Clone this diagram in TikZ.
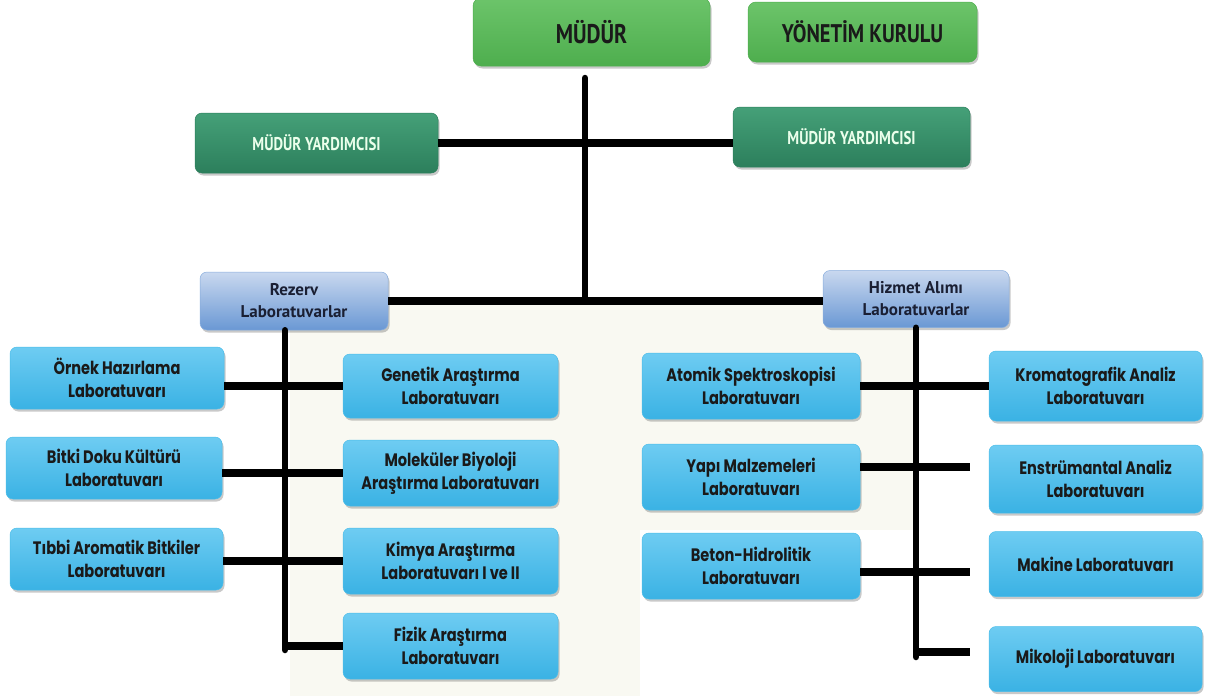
\documentclass[tikz,border=0pt]{standalone}
\usepackage{fontspec}
\setmainfont{PT Sans}
\newfontfamily\labfont[FakeStretch=0.81]{Poppins}
\newfontfamily\topfont[FakeStretch=0.8]{PT Sans}
\usetikzlibrary{shadows}
\definecolor{labtop}{HTML}{6ECCF2}
\definecolor{labbot}{HTML}{3AB2E4}
\definecolor{labedge}{HTML}{4BBDE9}
\definecolor{reztop}{HTML}{C9D8EF}
\definecolor{rezbot}{HTML}{6A98D4}
\definecolor{grtop}{HTML}{6CC46A}
\definecolor{grbot}{HTML}{4EAE4E}
\definecolor{dgtop}{HTML}{45A078}
\definecolor{dgbot}{HTML}{2C7F5C}
\definecolor{cream}{HTML}{F9F9F2}
\definecolor{txt}{HTML}{1A1A1A}
\definecolor{navy}{HTML}{1A1F33}
\tikzset{
  shad/.style={drop shadow={shadow xshift=1.5pt,shadow yshift=-2.5pt,opacity=0.3,fill=black!70}},
  labbox/.style={shad,rounded corners=7pt,draw=labedge,line width=0.5pt,top color=labtop,bottom color=labbot,
    align=center,text=txt,font=\labfont\bfseries\fontsize{18}{23.5}\selectfont,inner sep=0pt},
  grpbox/.style={shad,rounded corners=7pt,draw=rezbot!80!white,line width=0.5pt,top color=reztop,bottom color=rezbot,
    align=center,text=navy,font=\bfseries\fontsize{17}{22}\selectfont,inner sep=0pt},
  topbox/.style={shad,rounded corners=8pt,draw=grbot,line width=0.5pt,top color=grtop,bottom color=grbot,
    align=center,text=txt,inner sep=0pt},
  vicebox/.style={shad,rounded corners=7pt,draw=dgbot,line width=0.5pt,top color=dgtop,bottom color=dgbot,
    align=center,text=white!92!green,font=\topfont\bfseries\fontsize{18.5}{22}\selectfont,inner sep=0pt},
  conn/.style={line width=8.5pt,black},
  trunk/.style={line width=6.5pt,black,line cap=round},
}
\begin{document}
\begin{tikzpicture}[x=1pt,y=-1pt]
\useasboundingbox (0,0) rectangle (1206,696);
% faint background panel
\fill[cream] (290,305) rectangle (913,530);
\fill[cream] (290,530) rectangle (640,696);

% top level
\node[topbox,minimum width=237pt,minimum height=68pt,font=\topfont\bfseries\fontsize{27}{30}\selectfont] (mudur) at (591.5,32) {MÜDÜR};
\node[topbox,minimum width=229pt,minimum height=60pt,font=\topfont\bfseries\fontsize{25.5}{28}\selectfont] (yk) at (862.5,32) {YÖNETİM KURULU};
\node[vicebox,minimum width=243pt,minimum height=60pt] (myl) at (316.5,143) {MÜDÜR YARDIMCISI};
\node[vicebox,minimum width=237pt,minimum height=60pt] (myr) at (851.5,137) {MÜDÜR YARDIMCISI};

% groups
\node[grpbox,minimum width=188pt,minimum height=58pt] (rez) at (294,301) {Rezerv\\Laboratuvarlar};
\node[grpbox,minimum width=186pt,minimum height=57pt] (hiz) at (916,299) {Hizmet Alımı\\Laboratuvarlar};

% left labs
\node[labbox,minimum width=214pt,minimum height=62pt] (ornek) at (117,378) {Örnek Hazırlama\\Laboratuvarı};
\node[labbox,minimum width=216pt,minimum height=62pt] (bitki) at (114,468) {Bitki Doku Kültürü\\Laboratuvarı};
\node[labbox,minimum width=213pt,minimum height=62pt] (tibbi) at (116.5,559) {Tıbbi Aromatik Bitkiler\\Laboratuvarı};
\node[labbox,minimum width=215pt,minimum height=64pt] (genetik) at (450.5,386) {Genetik Araştırma\\Laboratuvarı};
\node[labbox,minimum width=215pt,minimum height=66pt] (molek) at (450.5,473) {Moleküler Biyoloji\\Araştırma Laboratuvarı};
\node[labbox,minimum width=215pt,minimum height=66pt] (kimya) at (450.5,561) {Kimya Araştırma\\Laboratuvarı I ve II};
\node[labbox,minimum width=215pt,minimum height=66pt] (fizik) at (450.5,646) {Fizik Araştırma\\Laboratuvarı};

% right labs
\node[labbox,minimum width=218pt,minimum height=66pt] (atomik) at (751,386) {Atomik Spektroskopisi\\Laboratuvarı};
\node[labbox,minimum width=218pt,minimum height=66pt] (yapi) at (751,477) {Yapı Malzemeleri\\Laboratuvarı};
\node[labbox,minimum width=218pt,minimum height=66pt] (beton) at (751,566) {Beton-Hidrolitik\\Laboratuvarı};
\node[labbox,minimum width=213pt,minimum height=70pt] (kroma) at (1095.5,386) {Kromatografik Analiz\\Laboratuvarı};
\node[labbox,minimum width=213pt,minimum height=68pt] (enst) at (1095.5,479) {Enstrümantal Analiz\\Laboratuvarı};
\node[labbox,minimum width=213pt,minimum height=65pt] (makine) at (1095.5,564) {Makine Laboratuvarı};
\node[labbox,minimum width=213pt,minimum height=65pt] (mikoloji) at (1095.5,659) {Mikoloji Laboratuvarı};

% connector helper points
\coordinate (ttop) at (585,78);
\coordinate (lv) at (285,650);
\coordinate (rv) at (916,657);
\coordinate (stubY) at (970,467);
\coordinate (stubB) at (970,572);
\coordinate (stubM) at (970,652);

% top structure
\draw[conn] (myl.east) -- (myr.west |- myl.east);
\draw[trunk] (ttop) -- (ttop |- rez.east);
\draw[conn] (rez.east) -- (hiz.west |- rez.east);

% left branch
\draw[trunk] (lv |- rez.south) -- (lv);
\draw[conn] (ornek.east |- genetik.west) -- (genetik.west);
\draw[conn] (bitki.east |- molek.west) -- (molek.west);
\draw[conn] (tibbi.east |- kimya.west) -- (kimya.west);
\draw[conn] (lv |- fizik.west) -- (fizik.west);

% right branch
\draw[trunk] (rv |- hiz.south) -- (rv);
\draw[conn] (atomik.east) -- (kroma.west |- atomik.east);
\draw[conn] (yapi.east |- stubY) -- (stubY);
\draw[conn] (beton.east |- stubB) -- (stubB);
\draw[conn] (rv |- stubM) -- (stubM);
\end{tikzpicture}
\end{document}
